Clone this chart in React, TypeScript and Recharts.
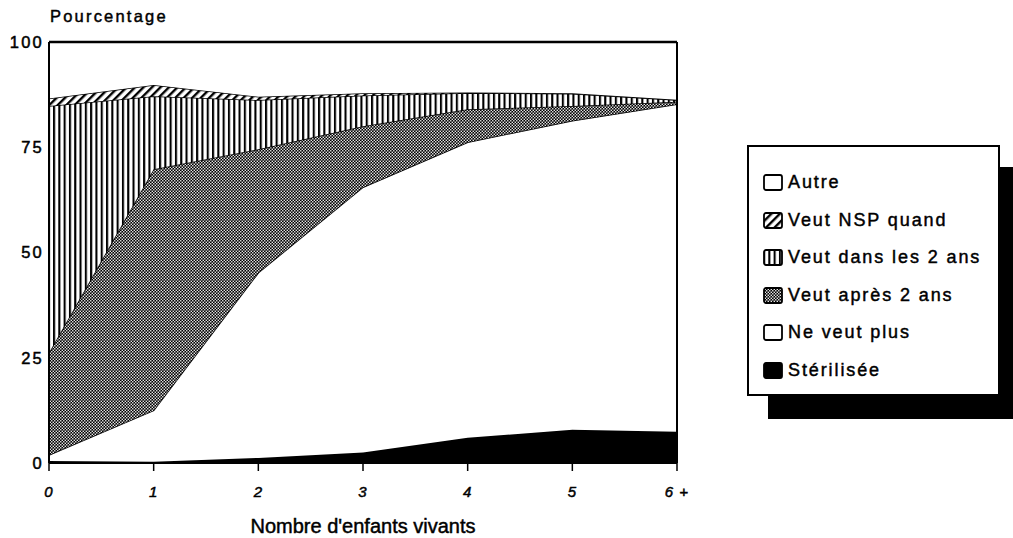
import React from 'react';
import { AreaChart, Area, XAxis, YAxis, ReferenceLine } from 'recharts';

const categories = [0, 1, 2, 3, 4, 5, 6];
const tickLabels = ['0', '1', '2', '3', '4', '5', '6 +'];
const yTicks = [0, 25, 50, 75, 100];
const sterilisee = [0.5, 0.3, 1.2, 2.5, 6, 7.9, 7.4];
const neVeutPlus = [1.4, 12.2, 44, 63, 70.2, 73.4, 77.8];
const veutApres = [24.3, 57.3, 29.3, 14.5, 7.8, 3.5, 0.6];
const veutDans = [58.6, 17.3, 11.7, 7.3, 3.9, 2.9, 0.4];
const veutNSP = [1.8, 2.7, 0.8, 0.5, 0.1, 0.1, 0.1];
const autre = [13.4, 10.2, 13, 12.2, 12, 12.2, 13.7];

const seriesNames = ['Autre', 'Veut NSP quand', 'Veut dans les 2 ans', 'Veut après 2 ans', 'Ne veut plus', 'Stérilisée'];
const seriesFills = ['#ffffff', 'url(#pDiag)', 'url(#pVert)', 'url(#pCross)', '#ffffff', '#000000'];

const data = categories.map((x, i) => ({
  x,
  sterilisee: sterilisee[i],
  neVeutPlus: neVeutPlus[i],
  veutApres: veutApres[i],
  veutDans: veutDans[i],
  veutNSP: veutNSP[i],
  autre: autre[i],
}));

const FONT = '"Liberation Sans", Arial, Helvetica, sans-serif';

const Patterns = () => (
  <svg width={0} height={0} style={{ position: 'absolute' }}>
    <defs>
      <pattern id="pVert" patternUnits="userSpaceOnUse" width={5.3} height={10}>
        <rect x={0} y={0} width={5.3} height={10} fill="#fff" />
        <rect x={0} y={0} width={2.1} height={10} fill="#000" />
      </pattern>
      <pattern id="pDiag" patternUnits="userSpaceOnUse" width={6} height={6} patternTransform="rotate(45)">
        <rect x={0} y={0} width={6} height={6} fill="#fff" />
        <rect x={0} y={0} width={2.4} height={6} fill="#000" />
      </pattern>
      <pattern id="pCross" patternUnits="userSpaceOnUse" width={3} height={3}>
        <rect x={0} y={0} width={3} height={3} fill="#000" />
        <rect x={0.1} y={0.1} width={1.35} height={1.35} fill="#fff" />
        <rect x={1.6} y={1.6} width={1.35} height={1.35} fill="#fff" />
      </pattern>
    </defs>
  </svg>
);

const legendTops = [35, 73, 110, 148, 185, 223];
const textStroke = { WebkitTextStroke: '0.45px #000' } as React.CSSProperties;

export default function App() {
  return (
    <div style={{ position: 'relative', width: 1013, height: 538, fontFamily: FONT, overflow: 'hidden' }}>
      <style>{'body{margin:0}'}</style>
      <Patterns />
      <AreaChart
        width={1013}
        height={538}
        data={data}
        margin={{ top: 42, right: 336, bottom: 35, left: 16 }}
      >
        <XAxis
          dataKey="x"
          type="number"
          domain={[0, 6]}
          ticks={categories}
          tickFormatter={(v: number) => tickLabels[v]}
          axisLine={{ stroke: '#000', strokeWidth: 2 }}
          tickLine={{ stroke: '#000', strokeWidth: 1.5 }}
          tickSize={8}
          tickMargin={15}
          height={40}
          tick={{ fill: '#000', stroke: '#000', strokeWidth: 0.5, fontSize: 15, fontStyle: 'italic', fontFamily: FONT, letterSpacing: 1 }}
        />
        <YAxis
          domain={[0, 100]}
          ticks={yTicks}
          allowDataOverflow
          width={33}
          axisLine={{ stroke: '#000', strokeWidth: 2 }}
          tickLine={false}
          tickSize={0}
          tickMargin={5}
          tick={{ fill: '#000', stroke: '#000', strokeWidth: 0.5, fontSize: 16.5, fontFamily: FONT, letterSpacing: 2.2 }}
        />
        <Area type="linear" dataKey="sterilisee" stackId="1" stroke="#000" strokeWidth={1.5} fill="#000" fillOpacity={1} isAnimationActive={false} />
        <Area type="linear" dataKey="neVeutPlus" stackId="1" stroke="#000" strokeWidth={1.5} fill="#fff" fillOpacity={1} isAnimationActive={false} />
        <Area type="linear" dataKey="veutApres" stackId="1" stroke="#000" strokeWidth={1.5} fill="url(#pCross)" fillOpacity={1} isAnimationActive={false} />
        <Area type="linear" dataKey="veutDans" stackId="1" stroke="#000" strokeWidth={1.5} fill="url(#pVert)" fillOpacity={1} isAnimationActive={false} />
        <Area type="linear" dataKey="veutNSP" stackId="1" stroke="#000" strokeWidth={1.5} fill="url(#pDiag)" fillOpacity={1} isAnimationActive={false} />
        <Area type="linear" dataKey="autre" stackId="1" stroke="none" fill="#fff" fillOpacity={1} isAnimationActive={false} />
        <ReferenceLine y={100} stroke="#000" strokeWidth={2.5} />
        <ReferenceLine x={6} stroke="#000" strokeWidth={2} />
      </AreaChart>

      <div style={{ position: 'absolute', left: 50, top: 6, fontSize: 16.5, letterSpacing: 2.2, lineHeight: '20px', whiteSpace: 'nowrap', ...textStroke }}>
        Pourcentage
      </div>
      <div style={{ position: 'absolute', left: 213, width: 300, textAlign: 'center', top: 516, fontSize: 20, lineHeight: '21px', whiteSpace: 'nowrap', ...textStroke }}>
        Nombre d'enfants vivants
      </div>

      <div style={{ position: 'absolute', left: 768, top: 167, width: 245, height: 252, background: '#000' }} />
      <div style={{ position: 'absolute', left: 747, top: 145, width: 253, height: 251, background: '#fff', border: '2px solid #000', boxSizing: 'border-box' }}>
        {seriesNames.map((name, i) => (
          <div key={name} style={{ position: 'absolute', left: 14, top: legendTops[i] - 10, height: 20, display: 'flex', alignItems: 'center', whiteSpace: 'nowrap' }}>
            <svg width={20} height={17} style={{ display: 'block' }}>
              <rect x={1} y={1} width={18} height={15} rx={2} fill={seriesFills[i]} stroke="#000" strokeWidth={1.8} />
            </svg>
            <span style={{ marginLeft: 5, fontSize: 18, letterSpacing: 1.9, lineHeight: '20px', ...textStroke }}>{name}</span>
          </div>
        ))}
      </div>
    </div>
  );
}
